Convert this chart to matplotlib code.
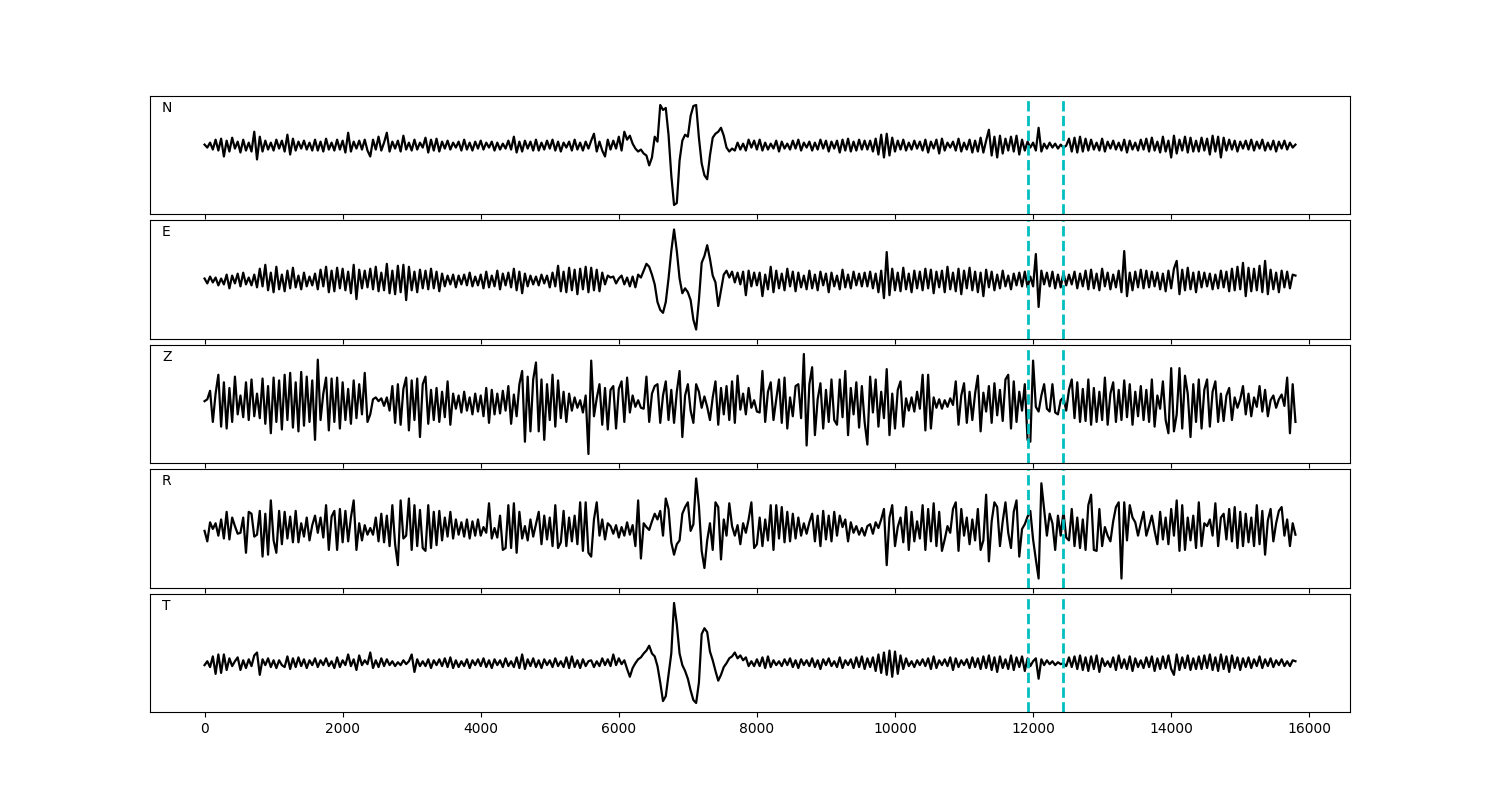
import numpy as np
import matplotlib
matplotlib.use("Agg")
import matplotlib.pyplot as plt

# sample spacing of the traces (x units)
dt = 40
components = ["N", "E", "Z", "R", "T"]
picks = [11930, 12440]

N = [
    1, -2, 3, -4, 6, -5, 7, -11, 5, -6, 8, -3, 4, -7, 6, -5, 3, -6, 14, -14,
    9, -6, 5, -4, 3, -5, 6, -3, 5, -6, 11, -9, 7, -5, 4, -3, 5, -4, 3, -5,
    6, -5, 4, -6, 7, -4, 3, -5, 6, -4, 5, -7, 13, -6, 4, -3, 5, -4, 6, -5,
    -11, 6, -4, 9, -5, 3, 13, -6, 4, -3, 5, -6, 10, -4, 3, -5, 6, -4, 3, -2,
    8, -7, 6, -5, 7, -6, 4, -3, 5, -4, 3, -2, 4, -5, 6, -4, 3, -5, 4, -3,
    5, -4, 3, -2, 4, -5, 3, -4, 2, -3, 5, -4, 9, -7, 4, -6, 5, -3, 4, -5,
    6, -5, 3, -4, 5, -3, 6, -5, 4, -6, 3, -2, 4, -5, 6, -4, 3, -5, 4, -3,
    5, 12, -6, 4, -5, -11, 6, -4, 5, -3, 9, -5, 14, 6, 10, 2, -3, -6, -4, -8,
    -10, -20, -12, 9, 4, 41, 36, 38, 11, -30, -60, -58, -15, 5, 11, 9, 30, 40, 41, 8,
    -18, -30, -34, -10, 8, 12, 14, 18, 10, -2, -6, -3, -5, 3, -4, 2, -5, 6, -2, 5,
    -4, 6, -5, 3, -4, 2, -3, 5, -6, 4, -3, 2, -4, 5, -3, 6, -5, 3, -2, 4,
    -5, 3, -4, 6, -3, 5, -6, 4, -3, 5, -7, 6, -5, 7, -6, 4, -5, 6, -4, 5,
    -4, 5, -6, 7, -9, 11, -12, 12, -10, 8, -6, 5, -4, 6, -5, 3, -4, 5, -3, 4,
    -5, 6, -7, 4, -3, 6, -8, 7, -5, 3, -2, 4, -5, 7, -6, 3, -4, 6, -7, 5,
    -6, 8, -7, 5, 16, -10, 9, -12, 10, -8, 7, -5, 9, -6, 10, -9, 6, -5, 4, -2,
    3, -5, 18, -6, 2, -3, 3, -2, 2, -3, 1, -2, 0, 7, -6, 8, -7, 9, -6, 7,
    -5, 6, -4, 3, -5, 7, -6, 4, -3, 5, -4, 3, -5, 6, -7, 5, -4, 3, -5, 6,
    -4, 7, -6, 8, -5, 4, -7, 9, -6, 5, -12, 10, -8, 6, -5, 9, -7, 8, -6, 5,
    -6, 8, -5, 7, -9, 10, -6, 9, -12, 8, -5, 6, -4, 5, -6, 4, -3, 5, -4, 6,
    -5, 4, -3, 6, -5, 3, -4, 5, -6, 4, -3, 5, -4, 3, -2, 1,
]

E = [
    2, -3, 4, -2, 3, -5, 2, -4, 6, -8, 5, -3, 7, -6, 8, -4, 3, -5, 6, -7,
    12, -6, 16, -10, 8, -12, 14, -9, 6, -11, 10, -8, 13, -7, 5, -9, 8, -6, 4, -5,
    7, -9, 11, -6, 14, -12, 10, -11, 13, -8, 12, -10, 9, -13, 16, -19, 11, -8, 10, -7,
    12, -9, 14, -11, 8, -10, 17, -13, 10, -14, 15, -12, 16, -20, 14, -10, 9, -12, 11, -8,
    10, -9, 12, -8, 9, -11, 7, -6, 5, -4, 6, -7, 5, -4, 6, -5, 8, -6, 4, -5,
    6, -8, 9, -7, 5, -6, 10, -9, 7, -5, 8, -7, 12, -10, 9, -13, 7, -6, 5, -4,
    4, -5, 6, -3, 5, -7, 8, -6, 15, -11, 9, -12, 13, -10, 11, -14, 12, -9, 14, -12,
    13, -10, 11, -11, 8, -4, 5, 3, 4, -3, 2, 5, -4, 3, -6, 4, -7, 6, 3, 10,
    17, 14, 6, -4, -22, -30, -33, -22, 2, 30, 52, 30, 2, -13, -8, -12, -20, -40, -50, -20,
    18, 25, 36, 22, 5, -2, -26, -10, 6, 10, 3, 9, -2, 8, -4, 9, -15, 10, -6, 8,
    -5, 8, -16, 6, -9, 14, -12, 10, -8, 7, -10, 12, -6, 9, -11, 8, -7, 5, -9, 10,
    -8, 6, -10, 9, -5, 7, -12, 8, -6, 5, -9, 11, -7, 6, -8, 9, -5, 7, -6, 8,
    -6, 9, -8, 7, -12, 10, -18, 29, -15, 12, -10, 8, -11, 13, -9, 7, -12, 10, -8, 9,
    -10, 12, -8, 11, -13, 9, -7, 10, -12, 14, -9, 8, -11, 12, -14, 10, -8, 13, -10, 9,
    -12, 8, -16, 11, -7, 9, -10, 6, -8, 10, -6, 5, -9, 7, -5, 8, -6, 9, -7, 4,
    -6, 27, -27, 10, -4, 8, -6, 9, -8, 6, -7, 8, -5, 6, -4, 9, -8, 7, -6, 10,
    -9, 11, -8, 7, -10, 12, -6, 8, -9, 6, -7, 10, -12, 30, -16, 8, -10, 9, -7, 11,
    -8, 10, -7, 9, -6, 8, -9, 7, -11, 10, -8, 12, 20, -14, 11, -10, 13, -9, 8, -12,
    9, -7, 8, -6, 7, -9, 6, -8, 10, -7, 9, -11, 12, -10, 14, -9, 18, -16, 13, -11,
    12, -10, 15, -12, 20, -14, 11, -9, 8, -12, 10, -7, 9, -8, 6, 5,
]

Z = [
    2, 4, 13, -20, 10, 30, -25, 22, -27, 16, -20, 28, -12, 8, -15, 22, -18, 25, -14, 10,
    -16, 26, -22, 18, -32, 27, -20, 24, -28, 30, -18, 32, -26, 22, -30, 33, -24, 28, -20, 24,
    -39, 46, -18, 10, 27, -29, 26, -20, 27, -27, 22, -18, 15, -22, 24, -16, 20, -12, 32, -20,
    -12, 4, 6, 2, 5, -3, 6, -8, 18, -21, 20, -23, 15, 27, -29, 24, -18, 26, -36, 20,
    28, -22, 14, -18, 16, -20, 12, -15, 23, -23, 10, -6, 8, -10, 12, -8, 6, -12, 10, -9,
    8, -14, 16, -21, 14, -12, 10, -11, 13, -8, 18, -22, 9, -14, 20, 34, -41, 28, -30, 25,
    43, -30, 25, -39, 20, -18, 30, -25, 24, -16, 12, -20, 10, -8, 6, -5, 3, -10, 8, -54,
    45, -14, 5, 20, -23, 16, -28, 14, 18, -27, 15, 23, -20, 27, -10, 8, -4, 3, -5, -6,
    28, -20, 10, 18, 20, -21, 8, 23, -18, 14, -21, 12, 34, -36, 8, 20, -8, -21, 20, 12,
    -5, 7, -4, -18, 6, 23, -23, 16, -12, 18, -18, 23, -21, 29, -7, 10, -12, 16, -5, 3,
    -9, -10, 34, -20, 12, 22, -18, 4, 25, -21, 27, -27, 6, -14, 18, 20, -16, 52, -45, 20,
    38, -34, 4, 21, -27, 14, -20, 25, -18, -23, 25, -15, 34, -34, 16, -12, 22, -26, 18, -20,
    -44, 28, -10, 25, -25, 12, -16, 36, -34, 10, -27, 14, 23, -25, 5, -8, 6, -9, 12, -6,
    30, -29, 30, -27, 6, -5, 4, -6, 3, -4, 5, -2, 23, -23, 8, 21, -21, 12, -18, 10,
    29, -30, 11, -9, 18, -21, 21, -13, 14, -19, 25, 30, -27, 23, -20, 12, -8, 20, -39, -41,
    45, -4, -9, 8, 20, -6, -9, 20, -10, -12, 3, 6, -8, 14, 25, -16, 22, -20, 15, -19,
    25, -23, 16, -20, 12, -18, 27, -23, 10, 22, -20, 14, -18, 24, -15, 20, -23, 12, -14, 18,
    -18, 14, -20, 25, -25, 8, -6, 23, -18, -32, 37, -30, -12, 37, -27, 29, 10, -36, 20, -20,
    25, -27, 14, 25, -25, 12, 23, -20, 10, -19, 8, 16, -18, 6, -5, 4, 18, -12, 10, -14,
    6, -4, 18, -9, 14, -14, 3, 8, -5, 4, 9, -3, 27, -32, 20, -20,
]

R = [
    0, -11, 9, 2, 8, -5, 12, -8, 20, -9, 14, 5, -3, -2, 14, -23, 20, 18, -6, -4,
    21, -27, 18, -25, 32, -10, -23, 21, -14, 20, -8, 15, -12, 21, -12, 8, -6, 14, -10, 6,
    16, -2, 14, -7, 27, -20, 15, 21, -20, 23, -12, 21, -11, 14, 32, -20, 8, -10, 6, -4,
    3, -4, 14, -11, 18, -12, 16, -16, 27, -14, -36, 32, -8, -5, 34, -20, 27, -16, 22, -18,
    -21, 27, -18, 20, -15, 21, -10, 14, -6, 20, -8, 12, -4, 9, -6, 12, -8, 10, -5, 12,
    -5, 4, -2, 29, -8, 3, -7, 16, -20, -18, 27, -18, 29, -23, 20, -8, 5, -10, 12, -6,
    7, 20, -14, 16, -9, 14, -16, 27, -18, -12, 21, -16, 14, -11, 16, -14, 30, -21, 30, -23,
    -27, 12, 30, -5, 12, -9, 8, 5, -3, 6, -7, 4, -5, 9, -4, 6, -16, 32, -29, 8,
    4, 1, 10, 18, 12, 21, -5, 34, 23, -12, -25, -14, -10, 18, 25, 30, 0, 7, 55, 26,
    -21, -39, -10, 8, -20, 30, 25, -30, 12, -5, 29, 5, -5, 6, -14, 8, -2, 12, 30, -18,
    -14, 14, -16, 12, -10, 27, -20, 27, -8, 25, -12, 20, -11, 18, -8, 14, -5, 8, -3, 9,
    18, -11, 16, -16, 21, -9, 16, -11, 20, -5, 16, 4, 12, -11, 9, -2, 5, -4, 3, -5,
    5, 7, -3, 9, 3, 12, 23, -36, 14, 27, -16, 4, 14, -12, 25, -20, 20, -11, 10, -8,
    27, -20, 23, -11, 29, -16, 20, -21, -9, 5, -2, 23, 30, -21, 23, -5, 14, -14, 12, -10,
    23, -20, -10, 38, -32, 10, 30, 25, -16, 10, 30, -2, -18, 20, 32, -27, 2, 7, 15, 21,
    -9, -30, -50, 50, 23, -5, 18, 8, -20, 16, -5, 20, -7, -10, 23, -16, 14, -18, 12, -20,
    27, 38, -20, -21, 23, -16, 4, -5, -11, 10, 25, 30, -50, 30, -10, 27, 14, 9, -5, 8,
    20, -5, 5, 16, 0, -14, 20, -9, 14, -14, 23, -5, 32, -21, 27, -20, 14, -10, 16, -18,
    30, -16, 8, 5, 12, -5, 29, -16, 14, 18, -9, 23, -11, 25, -18, 20, -16, 18, -12, 14,
    -16, 27, -14, 21, -25, 11, 23, -11, 8, 21, 25, -5, 12, -16, 8, -4,
]

T = [
    -2, 2, -4, 7, -11, 9, -10, 9, -7, 5, -3, 2, 6, -7, 3, -5, 4, -3, 8, 11,
    -12, 4, -2, 5, -4, 3, -5, 3, -2, -4, 7, -6, 5, -4, 6, -3, 4, -5, 3, -2,
    5, -4, 3, -2, 5, -3, 2, -5, 6, -4, 3, -2, 9, -3, 4, -7, 8, -2, 3, -1,
    11, -5, 3, -4, 5, -3, 4, -2, 2, -3, 1, -2, 3, -1, 2, 9, -9, 4, -3, 2,
    -3, 4, -5, 3, -2, 4, -3, 5, -4, 6, -5, 3, -4, 2, -3, 4, -5, 3, -2, 4,
    -3, 5, -4, 3, -5, 4, -2, 3, -4, 5, -3, 2, -4, 6, -5, 9, -6, 4, -3, 5,
    -4, 3, -5, 4, -2, 3, -4, 5, -3, 2, -4, 6, -5, 7, -4, 3, -5, 4, -3, 2,
    3, -4, 2, -3, 5, -2, 4, -3, 9, -2, 5, -1, 3, -6, -14, -5, 0, 4, 6, 10,
    13, 18, 10, 7, -3, -20, -39, -34, -12, 10, 62, 40, 10, -2, -8, -16, -28, -38, -41, -20,
    30, 36, 32, 12, 3, -8, -18, -12, -4, 0, 5, 7, 11, 5, 8, 3, 6, -3, 2, -3,
    4, -3, 6, -5, 7, -4, 3, -2, 2, -3, 4, -2, 5, -4, 3, -5, 4, -2, 3, -3,
    5, -4, 3, -6, 4, -2, 5, -3, 2, -4, 6, -5, 3, -2, 4, -5, 6, -4, 7, -6,
    5, -4, 6, -8, 9, -10, 11, -12, 13, -14, 12, -11, 8, -6, 5, -3, 2, -4, 3, -2,
    4, -3, 5, -6, 7, -5, 3, -2, 4, -3, 6, -7, 5, -4, 3, -2, 4, -5, 6, -4,
    5, -6, 7, -5, 8, -7, 6, -9, 7, -5, 4, -6, 8, -7, 6, -4, 7, -8, 5, -3,
    2, 5, -16, 4, -2, 3, -1, 2, -2, 1, -1, 0, -3, 6, -4, 7, -6, 8, -7, 6,
    -8, 7, -6, 8, -9, 5, -3, 2, -4, 6, -7, 8, -5, 4, -6, 7, -8, 5, -4, 3,
    -5, 6, -4, 7, -8, 5, -6, 7, -5, 8, -6, -12, 9, -7, 6, -5, 8, -7, 5, -6,
    7, -6, 8, -5, 9, -7, 6, -8, 9, -6, 7, -9, 8, -5, 6, -7, 5, -4, 6, -5,
    4, -3, 7, -5, 4, -3, 5, -4, 3, -2, 4, -3, 2, -3, 3, 2,
]

traces = [N, E, Z, R, T]

fig, axes = plt.subplots(5, 1, figsize=(15, 8), dpi=100, sharex=True)
fig.subplots_adjust(left=0.1, right=0.9, top=0.88, bottom=0.11, hspace=0.055)

for ax, name, tr in zip(axes, components, traces):
    tr = np.asarray(tr, dtype=float)
    t = np.arange(len(tr)) * dt
    ax.plot(t, tr, color="k", lw=1.6)
    ax.margins(y=0.09)
    for p in picks:
        ax.axvline(p, color="c", ls="--", lw=2)
    ax.set_yticks([])
    ax.text(0.01, 0.9, name, transform=ax.transAxes, ha="left", va="center",
            fontsize=10)

fig.savefig("out.png", dpi=100)
